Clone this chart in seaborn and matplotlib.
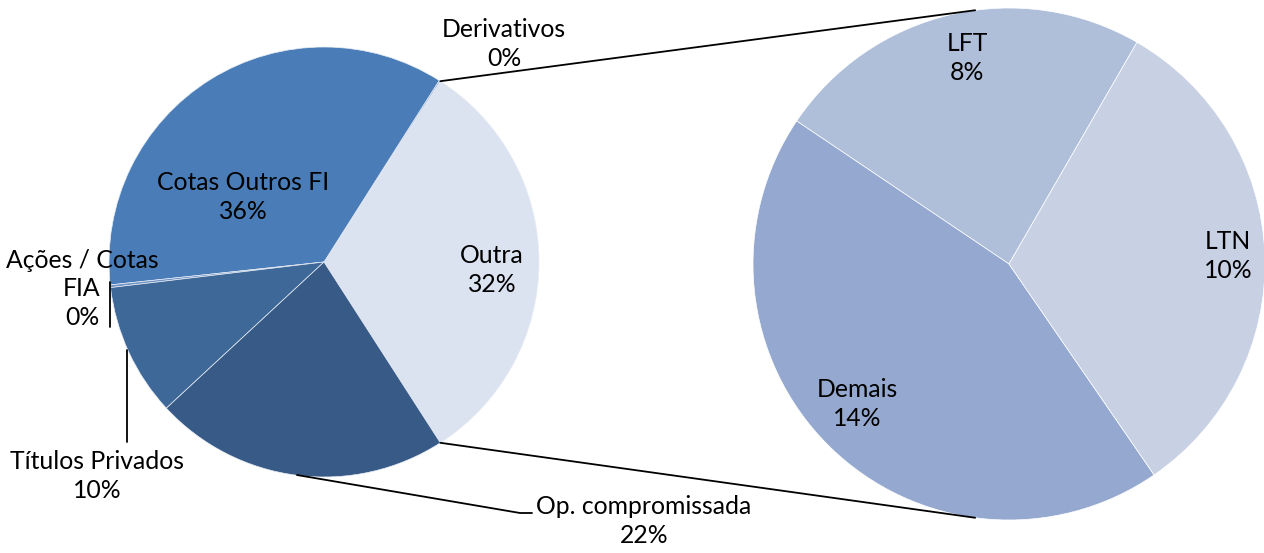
import numpy as np
import matplotlib
matplotlib.use("Agg")
import matplotlib.pyplot as plt
import seaborn as sns

sns.set_theme(style="white")
plt.rcParams['font.family'] = ['Lato', 'DejaVu Sans']

# Left (main) pie
main_labels = ["Outra", "Derivativos", "Cotas Outros FI", "Ações / Cotas\nFIA", "Títulos Privados", "Op. compromissada"]
main_values = [31.8, 0.1, 35.7, 0.2, 10.0, 22.2]
main_colors = ["#DCE3F0", "#7F9ED0", "#4A7DB7", "#6F93C4", "#3E6898", "#375A86"]

# Right (secondary) pie: breakdown of "Outra"
sub_labels = ["LFT", "Demais", "LTN"]
sub_values = [7.6, 14.0, 10.2]
sub_colors = ["#AFBFDA", "#95A9D0", "#C8D0E4"]

W, H = 1264, 553
fig = plt.figure(figsize=(W / 100, H / 100), dpi=100)
ax = fig.add_axes([0, 0, 1, 1])

def py(y):
    return H - y

c1 = (324, py(262)); r1 = 215
c2 = (1009, py(264)); r2 = 256

outra_deg = main_values[0] / sum(main_values) * 360
start1 = -outra_deg / 2
ax.pie(main_values, colors=main_colors, startangle=start1, counterclock=True,
       center=c1, radius=r1, wedgeprops=dict(edgecolor="#E8EDF5", linewidth=0.5),
       frame=True)
ax.pie(sub_values, colors=sub_colors, startangle=60, counterclock=True,
       center=c2, radius=r2, wedgeprops=dict(edgecolor="white", linewidth=0.5),
       frame=True)
ax.set_xlim(0, W)
ax.set_ylim(0, H)
ax.set_aspect('equal')
ax.axis('off')

# connector lines
a = np.deg2rad(outra_deg / 2)
b = np.deg2rad(97.6)
for s in (1, -1):
    x0 = c1[0] + r1 * np.cos(a); y0 = c1[1] + s * r1 * np.sin(a)
    x1 = c2[0] + r2 * np.cos(b); y1 = c2[1] + s * r2 * np.sin(b)
    ax.plot([x0, x1], [y0, y1], color="black", lw=1.3)

# leader lines
ax.plot([110, 110], [py(282), py(327)], color="black", lw=1.3)
ax.plot([127, 127], [py(350), py(442)], color="black", lw=1.3)
ax.plot([297, 520, 532], [py(475), py(513), py(513)], color="black", lw=1.3)

fs = 17.8
def lab(x, y, name, val):
    ax.text(x, py(y), f"{name}\n{round(val):d}%", ha="center", va="center",
            fontsize=fs, color="black", linespacing=1.3)

lab(243, 197, main_labels[2], main_values[2])
lab(492, 270, main_labels[0], main_values[0])
lab(504, 44, main_labels[1], main_values[1])
lab(82, 289, main_labels[3], main_values[3])
lab(97, 476, main_labels[4], main_values[4])
lab(644, 521, main_labels[5], main_values[5])

lab(967, 58, sub_labels[0], sub_values[0])
lab(857, 404, sub_labels[1], sub_values[1])
lab(1228, 256, sub_labels[2], sub_values[2])

fig.savefig("out.png", dpi=100)
